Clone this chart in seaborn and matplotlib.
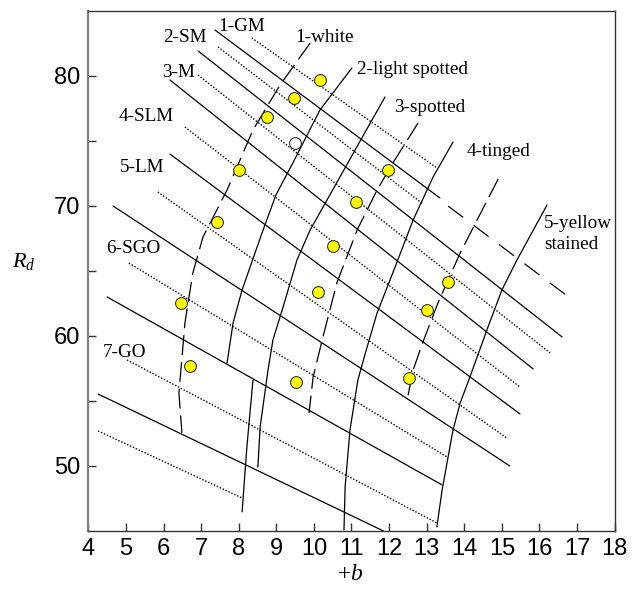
import matplotlib
matplotlib.use("Agg")
import matplotlib.pyplot as plt
import seaborn as sns

# ---------------------------------------------------------------------------
# Grade lines (Rd against +b), listed from the top of the chart downwards.
# Odd numbered lines are dotted, even numbered lines are solid.
g01_b, g01_rd = [8.35, 13.27], [82.90, 72.91]
g02_b, g02_rd = [7.37, 13.35], [83.51, 70.60]
g02x_b, g02x_rd = [13.57, 16.81], [69.98, 62.91]   # dashed continuation
g03_b, g03_rd = [7.45, 12.90], [82.21, 70.14]
g04_b, g04_rd = [6.92, 16.60], [81.90, 59.92]
g05_b, g05_rd = [6.92, 16.28], [80.05, 58.69]
g06_b, g06_rd = [6.17, 15.83], [79.67, 57.46]
g07_b, g07_rd = [6.57, 15.48], [76.06, 56.07]
g08_b, g08_rd = [6.17, 15.48], [73.98, 54.00]
g09_b, g09_rd = [5.85, 15.13], [71.06, 52.15]
g10_b, g10_rd = [4.66, 15.21], [69.98, 50.00]
g11_b, g11_rd = [5.08, 13.54], [65.60, 50.69]
g12_b, g12_rd = [4.50, 13.41], [62.99, 48.54]
g13_b, g13_rd = [5.03, 13.27], [58.15, 45.62]
g14_b, g14_rd = [4.26, 11.85], [55.53, 45.00]
g15_b, g15_rd = [4.26, 8.09], [52.69, 47.54]

# Colour boundary curves, listed from white to yellow stained.
c1_b = [9.90, 9.10, 8.38, 7.69, 7.05, 6.78, 6.57, 6.47, 6.41, 6.49]
c1_rd = [82.51, 79.29, 75.83, 71.21, 67.60, 64.83, 60.99, 57.61, 55.61, 52.54]
c2_b = [11.01, 10.16, 9.44, 8.99, 8.62, 8.09, 7.85, 7.69]
c2_rd = [80.59, 77.36, 73.29, 70.83, 67.91, 63.53, 60.99, 57.91]
c2b_b = [8.38, 8.22, 8.09]
c2b_rd = [56.61, 51.54, 46.47]
c3_b = [11.89, 11.17, 10.35, 9.90, 9.55, 9.18, 8.91, 8.78, 8.57, 8.51]
c3_rd = [78.36, 74.67, 70.45, 68.14, 65.83, 62.22, 59.68, 57.38, 53.00, 49.92]
c4_b = [12.77, 12.10, 11.68, 11.15, 10.61, 10.22, 9.98, 9.87]
c4_rd = [76.36, 73.29, 71.21, 68.14, 64.07, 59.68, 56.84, 54.07]
c5_b = [13.70, 13.17, 12.64, 12.16, 11.68, 11.37, 11.17, 10.96, 10.83, 10.80]
c5_rd = [74.90, 72.21, 68.91, 65.30, 61.76, 58.69, 56.61, 52.77, 48.39, 45.08]
c6_b = [14.90, 14.34, 13.89, 13.57, 13.30, 12.90, 12.64, 12.48]
c6_rd = [72.05, 68.91, 66.37, 64.30, 62.53, 59.53, 57.38, 55.07]
c7_b = [16.20, 15.40, 15.00, 14.60, 14.15, 13.89, 13.70, 13.54, 13.41, 13.27]
c7_rd = [70.06, 65.83, 63.53, 60.45, 56.84, 54.84, 52.77, 50.23, 48.15, 45.31]

# Measured samples
sample_b = [10.17, 9.47, 8.74, 8.02, 11.98, 11.12, 7.41, 10.50, 10.12, 6.47,
            6.70, 9.52, 13.57, 13.00, 12.53]
sample_rd = [79.70, 78.26, 76.80, 72.75, 72.75, 70.32, 68.73, 66.93, 63.35,
             62.55, 57.71, 56.48, 64.17, 62.00, 56.79]
open_b, open_rd = [9.50], [74.80]

# Region names
grade_names = ["1-GM", "2-SM", "3-M", "4-SLM", "5-LM", "6-SGO", "7-GO"]
grade_name_b = [8.09, 6.57, 6.39, 5.53, 5.43, 5.19, 4.95]
grade_name_rd = [83.82, 82.97, 80.28, 76.83, 72.98, 66.68, 58.69]
color_names = ["1-white", "2-light spotted", "3-spotted", "4-tinged"]
color_name_b = [10.27, 12.61, 13.09, 14.92]
color_name_rd = [82.90, 80.44, 77.59, 74.21]
last_color_name = "5-yellow\nstained"
last_color_b, last_color_rd = 16.12, 67.83

x_ticks = list(range(4, 19))
y_major = [50, 60, 70, 80]
y_minor = [55, 65, 75]
# ---------------------------------------------------------------------------

sns.set_theme(style="white")
plt.rcParams["font.family"] = ["Liberation Sans", "DejaVu Sans"]
plt.rcParams["mathtext.fontset"] = "custom"
plt.rcParams["mathtext.rm"] = "Liberation Serif"
plt.rcParams["mathtext.it"] = "Liberation Serif:italic"

fig = plt.figure(figsize=(6.32, 5.91), dpi=100)
ax = fig.add_axes([88.3 / 632, 1 - 531 / 591, 526.4 / 632, 520.35 / 591])

SOLID = "-"
DOTTED = (0, (1.0, 1.3))
DASHED = (0, (16, 5.5))
LONG_DASHED = (0, (15, 10.5))


def trace(b, rd, style, lw=0.9):
    sns.lineplot(x=b, y=rd, sort=False, estimator=None, color="black",
                 lw=lw, linestyle=style, ax=ax)


grade_lines = [(g01_b, g01_rd), (g02_b, g02_rd), (g03_b, g03_rd),
               (g04_b, g04_rd), (g05_b, g05_rd), (g06_b, g06_rd),
               (g07_b, g07_rd), (g08_b, g08_rd), (g09_b, g09_rd),
               (g10_b, g10_rd), (g11_b, g11_rd), (g12_b, g12_rd),
               (g13_b, g13_rd), (g14_b, g14_rd), (g15_b, g15_rd)]
for i, (b, rd) in enumerate(grade_lines):
    trace(b, rd, SOLID if i % 2 == 1 else DOTTED, lw=0.9 if i % 2 == 1 else 1.0)
trace(g02x_b, g02x_rd, LONG_DASHED)

trace(c1_b, c1_rd, DASHED)
trace(c2_b, c2_rd, SOLID)
trace(c2b_b, c2b_rd, SOLID)
trace(c3_b, c3_rd, SOLID)
trace(c4_b, c4_rd, DASHED)
trace(c5_b, c5_rd, SOLID)
trace(c6_b, c6_rd, DASHED)
trace(c7_b, c7_rd, SOLID)

sns.scatterplot(x=sample_b, y=sample_rd, color="#FFFF00", edgecolor="#333333",
                linewidth=0.8, s=72, zorder=5, ax=ax)
sns.scatterplot(x=open_b, y=open_rd, color="white", edgecolor="#333333",
                linewidth=0.8, s=72, zorder=5, ax=ax)

serif = dict(family=["Liberation Serif", "DejaVu Serif"], fontsize=13.8,
             color="black")
for name, b, rd in zip(grade_names, grade_name_b, grade_name_rd):
    ax.text(b, rd, name, ha="center", va="center", **serif)
for name, b, rd in zip(color_names, color_name_b, color_name_rd):
    ax.text(b, rd, name, ha="center", va="center", **serif)
ax.text(last_color_b, last_color_rd, last_color_name, ha="left", va="center",
        linespacing=1.25, **serif)

ax.set_xlim(4, 18)
ax.set_ylim(45, 85)
ax.set_xticks(x_ticks)
ax.set_xticklabels([str(t) for t in x_ticks])
ax.set_yticks(y_major)
ax.set_yticklabels([str(t) for t in y_major])
ax.set_yticks(y_minor, minor=True)
ax.tick_params(axis="both", which="both", direction="in", length=6, width=1,
               color="#333333", labelsize=17, labelcolor="black",
               bottom=True, left=True, top=False, right=False)
ax.tick_params(axis="x", pad=5)
ax.tick_params(axis="y", pad=6)

for side in ["top", "right", "bottom"]:
    ax.spines[side].set_color("#333333")
    ax.spines[side].set_linewidth(1.0)
ax.spines["left"].set_color("#808080")
ax.spines["left"].set_linewidth(1.6)

ax.set_xlabel("$+b$", fontsize=17, color="black")
ax.xaxis.set_label_coords(0.497, -0.062)
ax.set_ylabel("$R_d$", fontsize=16, color="black", rotation=0,
              ha="center", va="center")
ax.yaxis.set_label_coords(-0.122, 0.517)

fig.savefig("out.png", dpi=100)
